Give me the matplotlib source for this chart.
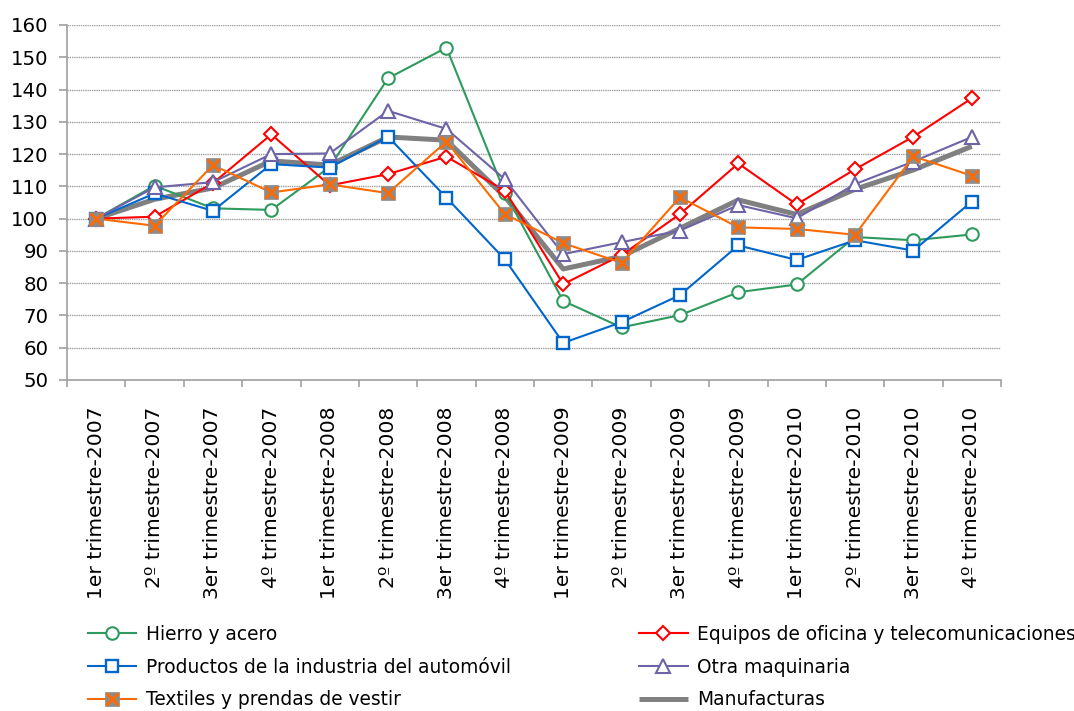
import matplotlib
matplotlib.use("Agg")
import matplotlib.pyplot as plt
import numpy as np
from matplotlib.legend_handler import HandlerTuple

categories = ["1er trimestre-2007", "2º trimestre-2007", "3er trimestre-2007", "4º trimestre-2007",
              "1er trimestre-2008", "2º trimestre-2008", "3er trimestre-2008", "4º trimestre-2008",
              "1er trimestre-2009", "2º trimestre-2009", "3er trimestre-2009", "4º trimestre-2009",
              "1er trimestre-2010", "2º trimestre-2010", "3er trimestre-2010", "4º trimestre-2010"]

hierro = [100, 110.2, 103.2, 102.7, 116, 143.5, 153, 108, 74.5, 66.3, 70.1, 77.2, 79.6, 94.3, 93.3, 95.1]
equipos = [100, 100.6, 111, 126.1, 110.3, 113.8, 119.2, 108.7, 79.7, 88.7, 101.4, 117.1, 104.4, 115.3, 125.4, 137.3]
automovil = [100, 107.8, 102.4, 116.9, 115.8, 125.4, 106.5, 87.4, 61.5, 67.9, 76.3, 91.7, 87.2, 93.3, 90.1, 105.3]
maquinaria = [100, 109.7, 111.3, 120.0, 120.2, 133.4, 127.8, 112.2, 89.0, 92.7, 96.3, 104.2, 100.1, 110.7, 117.7, 125.3]
textiles = [100, 97.8, 116.6, 108.1, 110.6, 107.9, 123.9, 101.4, 92.4, 86.3, 106.6, 97.3, 96.8, 95.0, 119.3, 113.3]
manufacturas = [100, 106, 109.5, 117.9, 116.6, 125.3, 124.3, 106.8, 84.4, 88.3, 97.0, 105.8, 101.3, 109.1, 115.1, 122.4]

labels = ["Hierro y acero", "Equipos de oficina y telecomunicaciones",
          "Productos de la industria del automóvil", "Otra maquinaria",
          "Textiles y prendas de vestir", "Manufacturas"]

plt.rcParams['font.family'] = ['DejaVu Sans']
fig = plt.figure(figsize=(10.74, 7.11), dpi=100)
ax = fig.add_axes([67/1074, 1-380/711, (1001-67)/1074, 355/711])

x = np.arange(len(categories))
ms = 9
lw = 1.5

l_man, = ax.plot(x, manufacturas, color="#808080", lw=3.6, zorder=2, solid_capstyle='butt')
l_hie, = ax.plot(x, hierro, color="#2E9A5E", lw=lw, marker='o', ms=ms, mfc='white', mec="#2E9A5E", mew=1.5, zorder=3)
l_equ, = ax.plot(x, equipos, color="#FF0000", lw=lw, marker='D', ms=ms-1.5, mfc='white', mec="#FF0000", mew=1.5, zorder=3)
l_aut, = ax.plot(x, automovil, color="#0066CC", lw=lw, marker='s', ms=ms, mfc='white', mec="#0066CC", mew=1.7, zorder=3)
l_maq, = ax.plot(x, maquinaria, color="#6C64A6", lw=lw, marker='^', ms=ms+0.5, mfc='white', mec="#6C64A6", mew=1.5, zorder=3)
l_tex, = ax.plot(x, textiles, color="#FF6A00", lw=lw, marker='s', ms=ms+0.5, mfc='#8C8C8C', mec='#8C8C8C', mew=0.5, zorder=4)
l_tex2, = ax.plot(x, textiles, color="#FF6A00", lw=0, marker='x', ms=ms, mew=2, zorder=5)

ax.set_xlim(-0.5, len(categories) - 0.5)
ax.set_ylim(50, 160)
ax.set_yticks(np.arange(50, 161, 10))
ax.yaxis.grid(True, color="#A0A0A0", lw=1, ls=(0, (1, 0.6)))
ax.set_axisbelow(True)
for s in ['top', 'right']:
    ax.spines[s].set_visible(False)
for s in ['left', 'bottom']:
    ax.spines[s].set_color("#A0A0A0")
    ax.spines[s].set_linewidth(1.2)

ax.set_xticks(x)
ax.set_xticklabels(categories, rotation=90, fontsize=14.6, color="black")
ax.tick_params(axis='x', which='major', length=0, pad=19)
ax.set_xticks(np.arange(-0.5, len(categories), 1), minor=True)
ax.tick_params(axis='x', which='minor', length=5, color="#A0A0A0", width=1.2)
ax.tick_params(axis='y', length=6, color="#A0A0A0", width=1.2, labelsize=14.2, pad=7.5)

handles = [l_hie, l_aut, (l_tex, l_tex2), l_equ, l_maq, l_man]
hlabels = [labels[0], labels[2], labels[4], labels[1], labels[3], labels[5]]
leg = fig.legend(handles, hlabels, loc='upper left', bbox_to_anchor=(88/1074, 1-625/711),
                 ncol=2, frameon=False, fontsize=13.4, handlelength=2.6, handletextpad=0.5,
                 columnspacing=6.9, labelspacing=0.73, borderaxespad=0, borderpad=0,
                 handler_map={tuple: HandlerTuple(ndivide=1, pad=0)})

fig.savefig("out.png", dpi=100)
